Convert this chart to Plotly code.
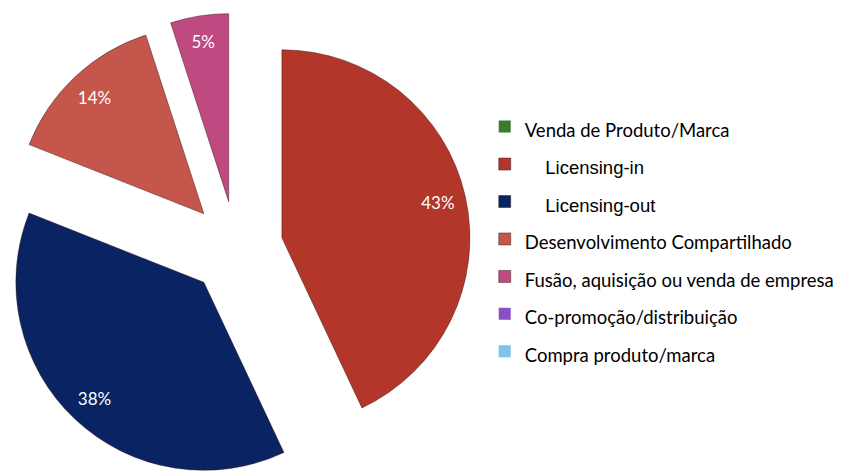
import plotly.graph_objects as go

categories = [
    "Venda de Produto/Marca",
    "Licensing-in",
    "Licensing-out",
    "Desenvolvimento Compartilhado",
    "Fusão, aquisição ou venda de empresa",
    "Co-promoção/distribuição",
    "Compra produto/marca",
]
values = [0, 43, 38, 14, 5, 0, 0]
colors = ["#3E7A2E", "#B3362B", "#0A2463", "#C4564C", "#BF4A82", "#8A4FC4", "#7CC4E8"]

arial = {"Licensing-in", "Licensing-out"}
legend_labels = []
for c in categories:
    if c in arial:
        legend_labels.append(
            '<span style="font-family:Liberation Sans, Arial;font-size:18.5px">'
            + "\u00a0" * 4 + c + "</span>"
        )
    else:
        legend_labels.append('<span style="font-size:18.5px">' + c + "</span>")

texts = [f"{v}%" if v > 0 else "" for v in values]
line_widths = [1 if v > 0 else 0 for v in values]

DOMAIN = dict(x=[0.0, 0.56], y=[0.002, 0.973])
PULL = 0.25

fig = go.Figure()

# coloured slices
fig.add_trace(
    go.Pie(
        labels=legend_labels,
        values=values,
        textinfo="none",
        marker=dict(colors=colors, line=dict(color="rgba(50,20,20,0.45)", width=line_widths)),
        sort=False,
        direction="clockwise",
        rotation=0,
        pull=PULL,
        hoverinfo="skip",
        domain=DOMAIN,
    )
)

# transparent ring carrying the percentage labels near the outer edge
fig.add_trace(
    go.Pie(
        labels=legend_labels,
        values=values,
        text=texts,
        textinfo="text",
        textposition="inside",
        insidetextorientation="horizontal",
        textfont=dict(family="Lato, Carlito, sans-serif", size=17, color="white"),
        marker=dict(colors=["rgba(0,0,0,0)"] * len(values), line=dict(width=0)),
        hole=0.7,
        sort=False,
        direction="clockwise",
        rotation=0,
        pull=PULL,
        hoverinfo="skip",
        showlegend=False,
        domain=DOMAIN,
    )
)

fig.update_layout(
    width=843,
    height=484,
    margin=dict(l=0, r=0, t=0, b=0),
    paper_bgcolor="white",
    plot_bgcolor="white",
    showlegend=True,
    legend=dict(
        x=0.575,
        y=0.7874,
        xanchor="left",
        yanchor="top",
        font=dict(family="Lato, Carlito, sans-serif", size=26.5, color="black"),
        itemwidth=30,
        bgcolor="rgba(0,0,0,0)",
    ),
    uniformtext=dict(minsize=10, mode="show"),
)

fig.write_html(
    "out.html",
    config={"displayModeBar": False},
    post_script="document.body.style.margin='0';document.body.style.overflow='hidden';",
)
